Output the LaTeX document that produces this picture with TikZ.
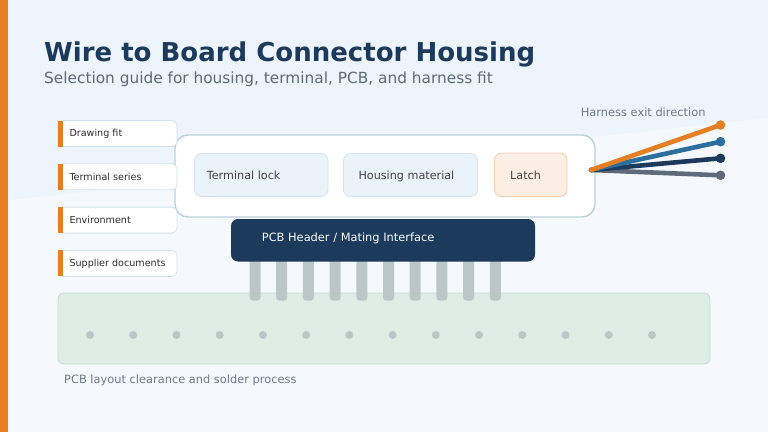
\documentclass[tikz,border=0pt]{standalone}
\usepackage{fontspec}
\setmainfont{DejaVu Sans}
\definecolor{akzent}{HTML}{E67E22}
\definecolor{marine}{HTML}{1B3A5C}
\definecolor{stahlblau}{HTML}{2C6E9E}
\definecolor{schiefer}{HTML}{5F6B7A}
\definecolor{bgoben}{HTML}{EDF4FB}
\definecolor{bgunten}{HTML}{F5F9FD}
\definecolor{rahmen}{HTML}{BCD0DC}
\definecolor{feld}{HTML}{EAF2FA}
\definecolor{feldrand}{HTML}{D3E2EE}
\definecolor{lachs}{HTML}{FDEEE3}
\definecolor{lachsrand}{HTML}{F2CDB0}
\definecolor{platine}{HTML}{DFEEE5}
\definecolor{platinerand}{HTML}{C2DCCB}
\definecolor{stift}{HTML}{BAC6C8}
\definecolor{schrift}{HTML}{2E2E2E}
\begin{document}
\begin{tikzpicture}[x=1pt,y=-1pt,
	txt/.style={anchor=base west,inner sep=0pt},
	klein/.style={txt,text=schrift,font=\fontsize{9.6}{11}\selectfont},
	mittel/.style={txt,text=schrift!90,font=\fontsize{11.2}{13}\selectfont},
	grau/.style={txt,text=schiefer!90,font=\fontsize{11.4}{13}\selectfont},
	feldbox/.style={fill=feld,draw=feldrand,line width=0.8pt,rounded corners=7pt},
	tagbox/.style={fill=white,draw=feldrand,line width=0.8pt,rounded corners=5pt},
	ader/.style={line width=4.6pt,line cap=round}]
	\useasboundingbox (0,0) rectangle (768,432);
	\fill[bgunten] (0,0) rectangle (768,432);%Hintergrund
	\fill[bgoben] (0,0) -- (768,0) -- (768,118) -- (0,201) -- cycle;%Hintergrund schraeg
	\fill[akzent] (0,0) rectangle (8,432);%Randbalken links

	\node[txt,text=marine,font=\fontsize{26}{30}\bfseries] (titel) at (44,61.7) {Wire to Board Connector Housing};
	\node[txt,text=schiefer,font=\fontsize{15.35}{18}\selectfont] (untertitel) at (44,83.3) {Selection guide for housing, terminal, PCB, and harness fit};

	%%%%%%
	%Platine
	\fill[platine,draw=platinerand,line width=0.8pt,rounded corners=6pt] (58,293) rectangle (710,364);
	\foreach \i in {0,...,13}
		\fill[stift] (90+43.23*\i,335) circle (4);%Loetpunkte
	\node[grau] (platinetext) at (64,383) {PCB layout clearance and solder process};

	%Stifte
	\foreach \i in {0,...,9}
		\fill[stift,rounded corners=3pt] (249.5+26.7*\i,250) rectangle (260.5+26.7*\i,300.5);
	\fill[marine,rounded corners=7pt] (231,219) rectangle (535,261.5);%Stiftleiste
	\node[txt,text=white!92!bgoben,font=\fontsize{11.4}{13}\selectfont] (header) at (261.7,241) {PCB Header / Mating Interface};

	%Gehaeuse
	\fill[white,draw=rahmen,line width=1.4pt,rounded corners=13pt] (175,135) rectangle (595,217);
	\fill[feldbox] (194.5,153.5) rectangle (328,196.5);
	\node[mittel] (lock) at (206.7,179) {Terminal lock};
	\fill[feldbox] (343.5,153.5) rectangle (477.5,196.5);
	\node[mittel] (material) at (358.3,179) {Housing material};
	\fill[feldbox,fill=lachs,draw=lachsrand] (494.5,153) rectangle (567,196.5);
	\node[mittel] (latch) at (510,179) {Latch};

	%Auswahlkriterien links
	\fill[tagbox] (58,120.5) rectangle (177,146.5);
	\fill[akzent] (58,120.5) rectangle (62.5,146.5);
	\node[klein] (fit) at (69.3,136.7) {Drawing fit};
	\fill[tagbox] (58,163.8) rectangle (177,189.8);
	\fill[akzent] (58,163.8) rectangle (62.5,189.8);
	\node[klein] (serie) at (69.3,180) {Terminal series};
	\fill[tagbox] (58,207.1) rectangle (177,233.1);
	\fill[akzent] (58,207.1) rectangle (62.5,233.1);
	\node[klein] (umwelt) at (69.3,223.3) {Environment};
	\fill[tagbox] (58,250.4) rectangle (177,276.4);
	\fill[akzent] (58,250.4) rectangle (62.5,276.4);
	\node[klein] (doku) at (69.3,266.6) {Supplier documents};

	%Kabelabgang
	\coordinate (K) at (591,170);
	\coordinate (a) at (720.5,125);
	\coordinate (b) at (720.5,141.7);
	\coordinate (c) at (720.5,158.3);
	\coordinate (d) at (720.5,175.3);
	\draw[ader,schiefer] (K) -- (d);
	\draw[ader,marine] (K) -- (c);
	\draw[ader,stahlblau] (K) -- (b);
	\draw[ader,akzent] (K) -- (a);
	\fill[akzent] (a) circle (4.8);
	\fill[stahlblau] (b) circle (4.8);
	\fill[marine] (c) circle (4.8);
	\fill[schiefer] (d) circle (4.8);
	\node[grau] (abgang) at (580.7,116.5) {Harness exit direction};
\end{tikzpicture}
\end{document}
